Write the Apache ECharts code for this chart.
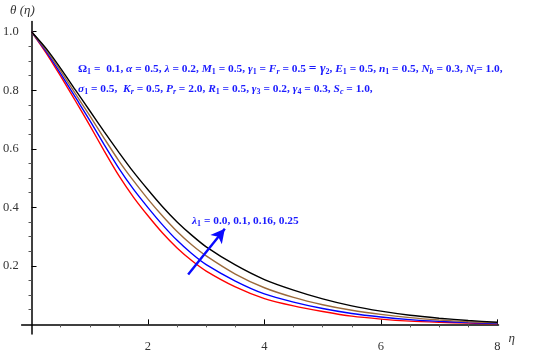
<!DOCTYPE html>
<html><head><meta charset="utf-8">
<script src="https://cdn.jsdelivr.net/npm/echarts@6/dist/echarts.min.js"></script>
<style>html,body{margin:0;padding:0;background:#fff}#c{width:550px;height:353px}</style>
</head><body><div id="c"></div>
<script>
// ---- data ----
const eta = [0,0.25,0.5,0.75,1,1.25,1.5,1.75,2,2.25,2.5,2.75,3,3.5,4,4.5,5,5.5,6,6.5,7,7.5,8];
const thetaL0   = [1.0,0.928,0.848,0.765,0.680,0.592,0.508,0.435,0.371,0.312,0.261,0.218,0.182,0.128,0.088,0.063,0.044,0.028,0.018,0.011,0.007,0.004,0.002]; // λ1 = 0.0 (red)
const thetaL01  = [1.0,0.933,0.857,0.777,0.697,0.613,0.533,0.462,0.399,0.340,0.287,0.242,0.204,0.148,0.104,0.076,0.054,0.037,0.025,0.016,0.010,0.006,0.003]; // λ1 = 0.1 (blue)
const thetaL016 = [1.0,0.938,0.866,0.789,0.713,0.635,0.559,0.491,0.428,0.370,0.317,0.272,0.234,0.172,0.125,0.092,0.067,0.048,0.034,0.023,0.015,0.009,0.005]; // λ1 = 0.16 (brown)
const thetaL025 = [1.0,0.943,0.875,0.802,0.730,0.658,0.588,0.521,0.460,0.402,0.350,0.305,0.265,0.203,0.153,0.117,0.087,0.063,0.045,0.031,0.021,0.013,0.007]; // λ1 = 0.25 (black)
const xMajorTicks = [2,4,6,8];
const xMinorTicks = [0.5,1,1.5,2.5,3,3.5,4.5,5,5.5,6.5,7,7.5];
const yMajorTicks = [0.2,0.4,0.6,0.8,1.0];
const yMinorTicks = [0.05,0.1,0.15,0.25,0.3,0.35,0.45,0.5,0.55,0.65,0.7,0.75,0.85,0.9,0.95];
const arrowFrom = [2.69,0.17];
const arrowTo = [3.32,0.327];

const pair = a => eta.map((x,i)=>[x,a[i]]);
const serif = 'Liberation Serif';
const annBlue = '#1a1aff';

const chart = echarts.init(document.getElementById('c'), null, {renderer:'canvas'});
const xBase = {type:'value', min:-0.17, max:8.02, splitLine:{show:false},
  axisLine:{onZero:true, lineStyle:{color:'#000', width:1.5}}};
const yBase = {type:'value', min:-0.033, max:1.035, splitLine:{show:false},
  axisLine:{onZero:true, lineStyle:{color:'#000', width:1.5}}};

const line = (name, data, color) => ({name, type:'line', data:pair(data), smooth:0.25, showSymbol:false,
  lineStyle:{color, width:1.4}, itemStyle:{color}, silent:true, z:3});

const fs = 11.4;
const richBase = {
  o:{fontFamily:serif, fontWeight:'bold', fontSize:fs, fill:annBlue, lineHeight:15},
  n:{fontFamily:serif, fontWeight:'bold', fontSize:fs, fill:annBlue, lineHeight:15},
  b:{fontFamily:serif, fontWeight:'bold', fontSize:13.5, fill:annBlue, lineHeight:15},
  i:{fontFamily:serif, fontWeight:'bold', fontStyle:'italic', fontSize:fs, fill:annBlue, lineHeight:15},
  bi:{fontFamily:serif, fontWeight:'bold', fontStyle:'italic', fontSize:13.5, fill:annBlue, lineHeight:15},
  s:{fontFamily:serif, fontWeight:'bold', fontStyle:'italic', fontSize:8, fill:annBlue, lineHeight:15, padding:[6,0,0,0]},
  su:{fontFamily:serif, fontWeight:'bold', fontSize:8, fill:annBlue, lineHeight:15, padding:[6,0,0,0]}
};

chart.setOption({
  animation:false,
  grid:{left:12, right:51.5, top:21.5, bottom:11, containLabel:false},
  xAxis:[
    Object.assign({}, xBase, {
      axisTick:{show:true, inside:true, length:5, customValues:xMajorTicks, lineStyle:{color:'#000'}},
      axisLabel:{show:true, customValues:xMajorTicks, formatter:v=>String(v), fontFamily:serif, fontSize:12.5, color:'#333', margin:6},
      name:'η', nameLocation:'end', nameGap:10, nameTextStyle:{fontFamily:serif, fontStyle:'italic', fontSize:13, color:'#333', verticalAlign:'top', padding:[8,0,0,0]}
    }),
    Object.assign({}, xBase, {
      axisLine:{show:false, onZero:true},
      axisTick:{show:true, inside:true, length:3, customValues:xMinorTicks, lineStyle:{color:'#555'}},
      axisLabel:{show:false}
    })
  ],
  yAxis:[
    Object.assign({}, yBase, {
      axisTick:{show:true, inside:true, length:5, customValues:yMajorTicks, lineStyle:{color:'#000'}},
      axisLabel:{show:true, customValues:yMajorTicks, formatter:v=>v.toFixed(1), fontFamily:serif, fontSize:12.5, color:'#333', margin:3},
    }),
    Object.assign({}, yBase, {
      axisLine:{show:false, onZero:true},
      axisTick:{show:true, inside:true, length:3, customValues:yMinorTicks, lineStyle:{color:'#555'}},
      axisLabel:{show:false}
    })
  ],
  series:[
    line('λ1 = 0.0', thetaL0, '#ff0000'),
    line('λ1 = 0.1', thetaL01, '#0000ff'),
    line('λ1 = 0.16', thetaL016, '#9b6a3c'),
    line('λ1 = 0.25', thetaL025, '#000000'),
    {type:'line', data:[], silent:true, z:5,
     markLine:{silent:true, symbol:['none','arrow'], symbolSize:[11,14], label:{show:false},
       lineStyle:{color:'#0a0aff', width:2.4, type:'solid'},
       data:[[{coord:arrowFrom},{coord:arrowTo}]]}}
  ],
  graphic:[
    {type:'text', left:10, top:4, style:{text:'θ (η)', font:'italic 13px "Liberation Serif"', fill:'#333'}},
    {type:'text', left:78, top:62, style:{
      text:'{o|Ω}{su|1}{n| =  0.1, }{i|α}{n| = 0.5, }{i|λ}{n| = 0.2, }{i|M}{su|1}{n| = 0.5, }{i|γ}{su|1}{n| = }{i|F}{s|r}{n| = 0.5 }{b|= }{bi|γ}{su|2}{n|, }{i|E}{su|1}{n| = 0.5, }{i|n}{su|1}{n| = 0.5, }{i|N}{s|b}{n| = 0.3, }{i|N}{s|t}{n|= 1.0,}',
      rich:richBase}},
    {type:'text', left:78, top:82, style:{
      text:'{i|σ}{su|1}{n| = 0.5,  }{i|K}{s|r}{n| = 0.5, }{i|P}{s|r}{n| = 2.0, }{i|R}{su|1}{n| = 0.5, }{i|γ}{su|3}{n| = 0.2, }{i|γ}{su|4}{n| = 0.3, }{i|S}{s|c}{n| = 1.0,}',
      rich:richBase}},
    {type:'text', left:192, top:214, style:{
      text:'{i|λ}{su|1}{n| = 0.0, 0.1, 0.16, 0.25}',
      rich:richBase}}
  ]
});
</script></body></html>
